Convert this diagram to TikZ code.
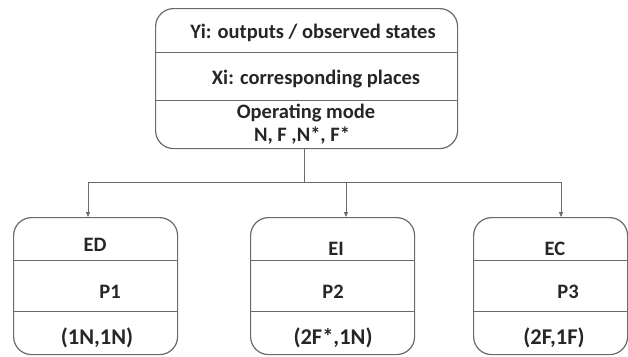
\documentclass[tikz,border=0pt]{standalone}
\usepackage{fontspec}
\setmainfont{Carlito}
\usetikzlibrary{arrows.meta}
\definecolor{linegray}{HTML}{6A6A6A}
\definecolor{txt}{HTML}{262626}
\begin{document}
\begin{tikzpicture}[x=1pt,y=-1pt,
  box/.style={draw=linegray, line width=1.2pt, rounded corners=18pt, inner sep=0pt, anchor=north west},
  lbl/.style={font=\bfseries\fontsize{20.5}{22}\selectfont, text=txt, inner sep=0pt},
  biglbl/.style={lbl, font=\bfseries\fontsize{22.5}{24}\selectfont},
  div/.style={draw=linegray, line width=1pt},
  conn/.style={draw=linegray, line width=0.8pt},
  arr/.style={conn, -{Triangle[length=5pt,width=4pt]}}]
\useasboundingbox (0,0) rectangle (628,356);
% top box
\node[box, minimum width=302pt, minimum height=140pt] (top) at (155,8) {};
\draw[div] (top.west |- 0,52) -- (top.east |- 0,52);
\draw[div] (top.west |- 0,100) -- (top.east |- 0,100);
\node[lbl] (yi) at (313,33) {Yi: outputs / observed states};
\node[lbl] (xi) at (316,79) {Xi: corresponding places};
\node[lbl] (om) at (306,113) {Operating mode};
\node[lbl] (nf) at (302,136) {N, F ,N*, F*};
% bottom boxes
\node[box, minimum width=164pt, minimum height=137pt] (ed) at (13,217) {};
\node[box, minimum width=164pt, minimum height=137pt] (ei) at (250,217) {};
\node[box, minimum width=154pt, minimum height=137pt] (ec) at (473,217) {};
\foreach \b in {ed,ei,ec}{
  \draw[div] (\b.west |- 0,260) -- (\b.east |- 0,260);
  \draw[div] (\b.west |- 0,311) -- (\b.east |- 0,311);
}
\node[lbl] (tED) at (95,245) {ED};
\node[lbl] (tP1) at (110,292) {P1};
\node[biglbl] (tR1) at (97,338) {(1N,1N)};
\node[lbl] (tEI) at (336,249) {EI};
\node[lbl] (tP2) at (333,292) {P2};
\node[biglbl] (tR2) at (333,338) {(2F*,1N)};
\node[lbl] (tEC) at (555,249) {EC};
\node[lbl] (tP3) at (568,292) {P3};
\node[biglbl] (tR3) at (554,338) {(2F,1F)};
% connectors
\coordinate (j) at (304,182);
\coordinate (ta) at (88,217);
\coordinate (tb) at (346,217);
\coordinate (tc) at (561,217);
\draw[conn] (j |- top.south) -- (j);
\draw[arr] (j) -| (ta |- ed.north);
\draw[arr] (j) -| (tb |- ei.north);
\draw[arr] (j) -| (tc |- ec.north);
\end{tikzpicture}
\end{document}
